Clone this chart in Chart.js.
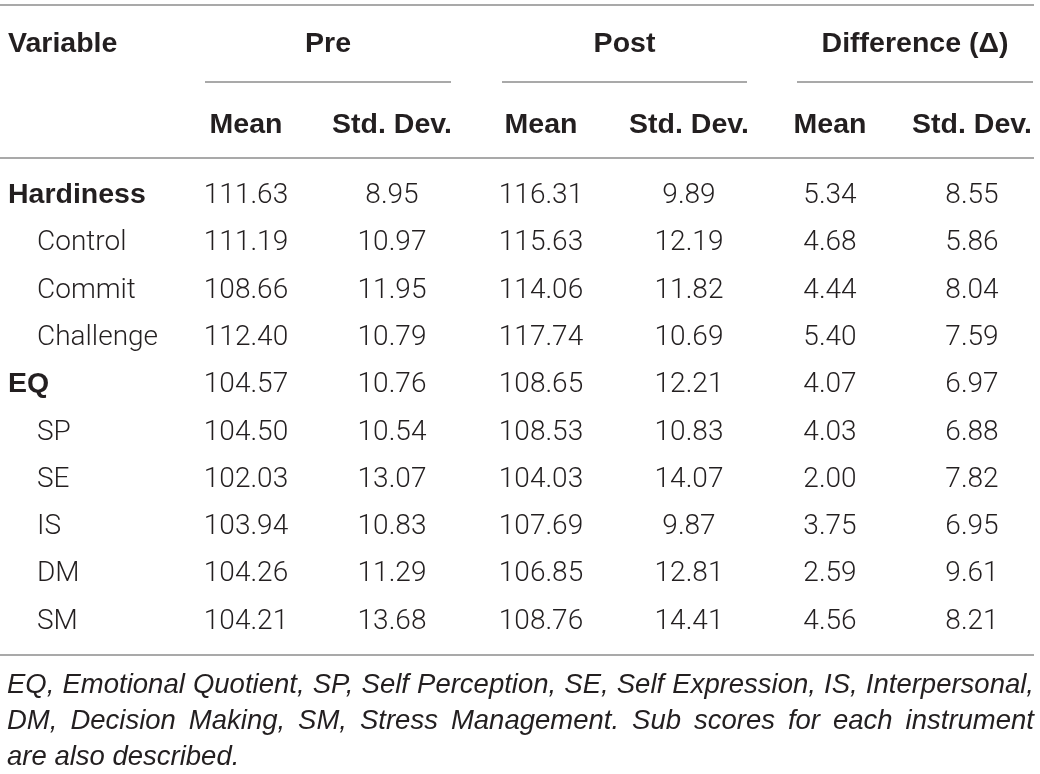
<!DOCTYPE html>
<html><head><meta charset="utf-8">
<script src="https://cdn.jsdelivr.net/npm/chart.js@4.4.1/dist/chart.umd.min.js"></script>
<style>html,body{margin:0;padding:0;background:#fff;}#wrap{width:1040px;height:774px;position:relative;}</style>
</head><body><div id="wrap"><canvas id="c"></canvas></div>
<script>
// ---- data ----
const stubHeader = 'Variable';
const groupHeaders = ['Pre', 'Post', 'Difference (\u0394)'];
const subHeaders = ['Mean', 'Std. Dev.', 'Mean', 'Std. Dev.', 'Mean', 'Std. Dev.'];
const rowLabels = ['Hardiness', 'Control', 'Commit', 'Challenge', 'EQ', 'SP', 'SE', 'IS', 'DM', 'SM'];
const rowIsGroup = [true, false, false, false, true, false, false, false, false, false];
const preMean  = [111.63, 111.19, 108.66, 112.40, 104.57, 104.50, 102.03, 103.94, 104.26, 104.21];
const preSD    = [8.95, 10.97, 11.95, 10.79, 10.76, 10.54, 13.07, 10.83, 11.29, 13.68];
const postMean = [116.31, 115.63, 114.06, 117.74, 108.65, 108.53, 104.03, 107.69, 106.85, 108.76];
const postSD   = [9.89, 12.19, 11.82, 10.69, 12.21, 10.83, 14.07, 9.87, 12.81, 14.41];
const diffMean = [5.34, 4.68, 4.44, 5.40, 4.07, 4.03, 2.00, 3.75, 2.59, 4.56];
const diffSD   = [8.55, 5.86, 8.04, 7.59, 6.97, 6.88, 7.82, 6.95, 9.61, 8.21];
const footnoteLines = [
  'EQ, Emotional Quotient, SP, Self Perception, SE, Self Expression, IS, Interpersonal,',
  'DM, Decision Making, SM, Stress Management. Sub scores for each instrument',
  'are also described.'
];

// ---- layout ----
const W = 1040, H = 774;
const COL_X = [246, 392, 541, 689, 830, 972];
const GROUP_SPANS = [[205, 451], [502, 747], [797, 1033]];
const STUB_X = 8, INDENT_X = 37, RIGHT_X = 1034;
const ROW_H = 47.3, ROW0 = 203;
const HEAD1_Y = 52, HEAD2_Y = 133;
const RULE_TOP = 5, RULE_SPAN = 82, RULE_HEAD = 158, RULE_BOTTOM = 655;
const FOOT_Y = [693, 729, 765];
const TEXT_COLOR = '#231f20', RULE_COLOR = '#8c8c8c';
const BOLD_FONT = 'bold 28.5px "Liberation Sans", Arial, sans-serif';
const LIGHT_FONT = '300 28px Roboto, "Liberation Sans", sans-serif';
const FOOT_FONT = 'italic 27.5px "Liberation Sans", Arial, sans-serif';

const valueCols = [preMean, preSD, postMean, postSD, diffMean, diffSD];
const datasets = [{
  label: 'stub', align: 'left',
  data: rowLabels.map((l, i) => ({ x: rowIsGroup[i] ? STUB_X : INDENT_X, y: i, text: l, bold: rowIsGroup[i] })),
  pointRadius: 0
}].concat(valueCols.map((arr, c) => ({
  label: subHeaders[c], align: 'center',
  data: arr.map((v, i) => ({ x: COL_X[c], y: i, text: v.toFixed(2), bold: false })),
  pointRadius: 0
})));

const tablePlugin = {
  id: 'table',
  afterDatasetsDraw(chart) {
    const ctx = chart.ctx, xs = chart.scales.x, ys = chart.scales.y;
    const yPix = p => ys.getPixelForValue((p - ROW0) / ROW_H);
    const xPix = v => xs.getPixelForValue(v);
    ctx.save();
    ctx.strokeStyle = RULE_COLOR; ctx.lineWidth = 1.5;
    const hline = (x0, x1, p) => { const y = yPix(p); ctx.beginPath(); ctx.moveTo(xPix(x0), y); ctx.lineTo(xPix(x1), y); ctx.stroke(); };
    hline(0, RIGHT_X, RULE_TOP);
    GROUP_SPANS.forEach(s => hline(s[0], s[1], RULE_SPAN));
    hline(0, RIGHT_X, RULE_HEAD);
    hline(0, RIGHT_X, RULE_BOTTOM);

    ctx.fillStyle = TEXT_COLOR;
    ctx.textBaseline = 'alphabetic';
    ctx.font = BOLD_FONT;
    ctx.textAlign = 'left';
    ctx.fillText(stubHeader, xPix(STUB_X), yPix(HEAD1_Y));
    ctx.textAlign = 'center';
    groupHeaders.forEach((g, k) => ctx.fillText(g, xPix((GROUP_SPANS[k][0] + GROUP_SPANS[k][1]) / 2), yPix(HEAD1_Y)));
    subHeaders.forEach((s, c) => ctx.fillText(s, xPix(COL_X[c]), yPix(HEAD2_Y)));

    chart.data.datasets.forEach((ds, di) => {
      const meta = chart.getDatasetMeta(di);
      meta.data.forEach((pt, i) => {
        const d = ds.data[i];
        ctx.font = d.bold ? BOLD_FONT : LIGHT_FONT;
        ctx.textAlign = ds.align;
        ctx.fillText(d.text, pt.x, pt.y);
      });
    });

    ctx.font = FOOT_FONT;
    ctx.textAlign = 'left';
    const x0 = xPix(STUB_X - 1), x1 = xPix(RIGHT_X);
    const target = x1 - x0;
    footnoteLines.forEach((line, li) => {
      const y = yPix(FOOT_Y[li]);
      const last = li === footnoteLines.length - 1;
      const natural = ctx.measureText(line).width;
      if (last) { ctx.fillText(line, x0, y); return; }
      if (natural >= target) {
        ctx.save(); ctx.translate(x0, y); ctx.scale(target / natural, 1); ctx.fillText(line, 0, 0); ctx.restore();
        return;
      }
      const words = line.split(' ');
      const widths = words.map(w => ctx.measureText(w).width);
      const sum = widths.reduce((a, b) => a + b, 0);
      const gap = (target - sum) / (words.length - 1);
      let x = x0;
      words.forEach((w, k) => { ctx.fillText(w, x, y); x += widths[k] + gap; });
    });
    ctx.restore();
  }
};

new Chart(document.getElementById('c'), {
  type: 'scatter',
  data: { datasets },
  options: {
    responsive: true, maintainAspectRatio: false, animation: false, events: [],
    layout: { padding: 0 },
    plugins: { legend: { display: false }, tooltip: { enabled: false } },
    scales: {
      x: { type: 'linear', min: 0, max: W, display: false },
      y: { type: 'linear', reverse: true, min: -ROW0 / ROW_H, max: (H - ROW0) / ROW_H, display: false }
    }
  },
  plugins: [tablePlugin]
});
</script></body></html>
